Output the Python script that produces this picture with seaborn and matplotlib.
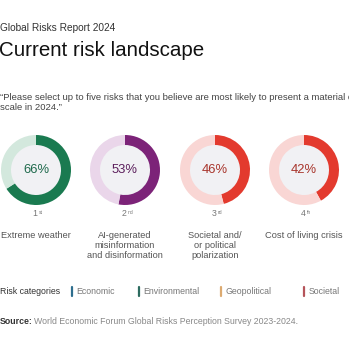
import matplotlib
matplotlib.use("Agg")
import matplotlib.pyplot as plt
import seaborn as sns
from matplotlib.patches import Circle

sns.set_theme(style="white")
plt.rcParams['font.family'] = ['Liberation Sans', 'DejaVu Sans']

# ---- data ----
ranks = ["1", "2", "3", "4"]
rank_suffix = ["st", "nd", "rd", "th"]
risks = ["Extreme weather", "AI-generated\nmisinformation\nand disinformation",
         "Societal and/\nor political\npolarization", "Cost of living crisis"]
shares = [66, 53, 46, 42]
main_colors = ["#1a7a50", "#7c2378", "#e33a2e", "#e33a2e"]
light_colors = ["#d3e8dd", "#ead6ea", "#f9d6d4", "#f9d6d4"]
text_colors = ["#1f6a4c", "#5c1f5c", "#a8352c", "#a8352c"]
legend_labels = ["Economic", "Environmental", "Geopolitical", "Societal"]
legend_colors = ["#2e6e8e", "#2c6b5f", "#dcaa70", "#b5545a"]

W = H = 349
dpi = 100
fig = plt.figure(figsize=(W / dpi, H / dpi), dpi=dpi)
fig.patch.set_facecolor("white")

def fx(x):
    return x / W

def fy(y):
    return 1 - y / H

# header texts
fig.text(fx(0), fy(28), "Global Risks Report 2024", fontsize=7.3, color="#333333", va="center", ha="left")
fig.text(fx(-1), fy(51), "Current risk landscape", fontsize=14.8, color="#111111", va="center", ha="left")
fig.text(fx(0), fy(97),
         "\u201cPlease select up to five risks that you believe are most likely to present a material crisis on a global",
         fontsize=6.8, color="#444444", va="center", ha="left")
fig.text(fx(0), fy(107.5), "scale in 2024.\u201d", fontsize=6.8, color="#444444", va="center", ha="left")

centers = [36, 125, 215, 304]
cy = 170
R = 35
ring = 10
for i, cx in enumerate(centers):
    ax = fig.add_axes([fx(cx - R), fy(cy + R), 2 * R / W, 2 * R / H])
    ax.pie([shares[i], 100 - shares[i]], colors=[main_colors[i], light_colors[i]],
           startangle=90, counterclock=False, radius=1,
           wedgeprops=dict(width=ring / R, linewidth=0))
    ax.add_patch(Circle((0, 0), 1 - ring / R, color="#f1f1f4", zorder=0))
    ax.set_xlim(-1, 1)
    ax.set_ylim(-1, 1)
    ax.set_aspect("equal")
    ax.axis("off")
    ax.text(0, 0, f"{shares[i]}%", ha="center", va="center", fontsize=9.4, color=text_colors[i])
    # rank
    fig.text(fx(cx - 1), fy(214), ranks[i], fontsize=6.3, color="#777777", ha="center", va="center")
    fig.text(fx(cx + 2.5), fy(212), rank_suffix[i], fontsize=3.6, color="#777777", ha="left", va="center")
    fig.text(fx(cx), fy(230.5), risks[i], fontsize=6.7, color="#555555", ha="center", va="top",
             linespacing=1.2)

# legend
ly = 291
fig.text(fx(0), fy(ly), "Risk categories", fontsize=6.3, color="#333333", va="center", ha="left")
lx = [72, 139, 221, 304]
for x, lab, col in zip(lx, legend_labels, legend_colors):
    fig.add_artist(plt.Line2D([fx(x), fx(x)], [fy(ly - 4.5), fy(ly + 4.5)], color=col, linewidth=1.6,
                              transform=fig.transFigure))
    fig.text(fx(x + 4.5), fy(ly), lab, fontsize=6.3, color="#777777", va="center", ha="left")

# source
fig.text(fx(0), fy(322), "Source:", fontsize=6.3, color="#333333", va="center", ha="left", fontweight="bold")
fig.text(fx(34), fy(322), "World Economic Forum Global Risks Perception Survey 2023-2024.",
         fontsize=6.3, color="#888888", va="center", ha="left")

fig.savefig("out.png", dpi=dpi, facecolor="white")
